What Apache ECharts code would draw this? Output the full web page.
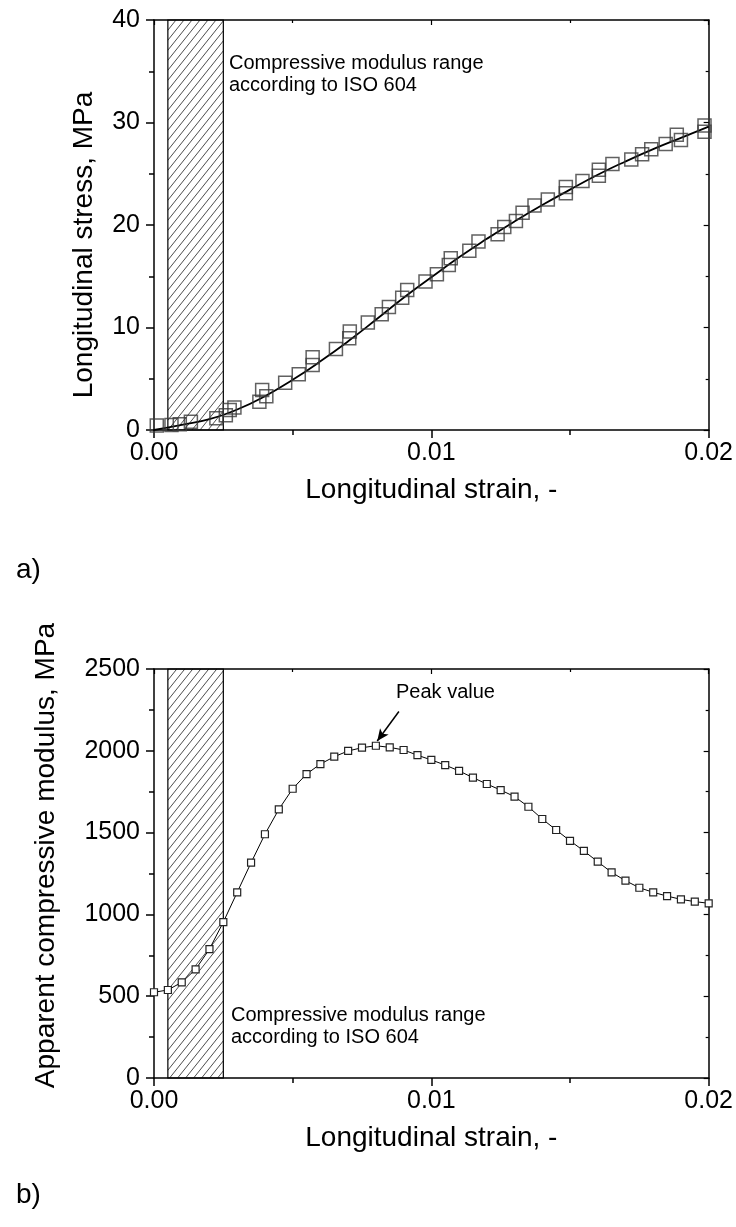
<!DOCTYPE html>
<html>
<head>
<meta charset="utf-8">
<script src="https://cdn.jsdelivr.net/npm/echarts@6/dist/echarts.min.js"></script>
<style>
html,body{margin:0;padding:0;background:#fff;}
#chart{width:736px;height:1227px;}
</style>
</head>
<body>
<div id="chart"></div>
<script>
// ---------- data ----------
const strainTicks = [0, 0.01, 0.02];
const hatchRange = [0.0005, 0.0025];

// (a) stress-strain, measured points [strain, stress MPa]
const stressPoints = [
  [0.0001,0.45],[0.00063,0.5],[0.00093,0.55],[0.00133,0.8],[0.00225,1.15],
  [0.00259,1.45],[0.00273,1.95],[0.0029,2.2],[0.0038,2.75],[0.0039,3.9],
  [0.00405,3.3],[0.00473,4.6],[0.00522,5.45],[0.00572,6.35],[0.00572,7.1],
  [0.00656,7.9],[0.00704,8.95],[0.00706,9.6],[0.00771,10.5],[0.00821,11.3],
  [0.00847,12.0],[0.00895,12.9],[0.00913,13.65],[0.00979,14.5],[0.0102,15.2],
  [0.01063,16.1],[0.0107,16.75],[0.01137,17.5],[0.0117,18.4],[0.01239,19.1],
  [0.01263,19.8],[0.01305,20.4],[0.01329,21.2],[0.01372,21.9],[0.0142,22.5],
  [0.01485,23.1],[0.01485,23.7],[0.01545,24.3],[0.01604,24.8],[0.01604,25.4],
  [0.01653,25.95],[0.01721,26.4],[0.0176,26.9],[0.01793,27.4],[0.01845,27.9],
  [0.01885,28.8],[0.019,28.3],[0.01985,29.7],[0.01985,29.1]
];
// (a) fitted curve [strain, stress]
const stressFit = [
  [0,0],[0.001,0.5],[0.002,1.05],[0.003,2.0],[0.004,3.3],[0.005,4.9],
  [0.006,6.7],[0.007,8.65],[0.008,10.75],[0.009,12.9],[0.010,14.9],
  [0.011,16.85],[0.012,18.65],[0.013,20.35],[0.014,21.95],[0.015,23.45],
  [0.016,24.9],[0.017,26.2],[0.018,27.4],[0.019,28.5],[0.020,29.6]
];

// (b) apparent compressive modulus
const modStrain = [
  0,0.0005,0.001,0.0015,0.002,0.0025,0.003,0.0035,0.004,0.0045,0.005,
  0.0055,0.006,0.0065,0.007,0.0075,0.008,0.0085,0.009,0.0095,0.01,
  0.0105,0.011,0.0115,0.012,0.0125,0.013,0.0135,0.014,0.0145,0.015,
  0.0155,0.016,0.0165,0.017,0.0175,0.018,0.0185,0.019,0.0195,0.02
];
const modValues = [
  524,538,585,664,788,953,1135,1316,1490,1642,1768,
  1858,1919,1964,1999,2019,2031,2021,2005,1973,1944,
  1913,1877,1836,1797,1760,1720,1658,1583,1516,1450,
  1388,1322,1257,1206,1163,1135,1112,1092,1078,1068
];
const peakArrow = [[0.00883, 2240], [0.00805, 2060]];

// ---------- styles ----------
const FONT = 'Liberation Sans, Arial, sans-serif';
function hatchPattern() {
  const w = 8, h = 10;
  const c = document.createElement('canvas');
  c.width = w; c.height = h;
  const g = c.getContext('2d');
  g.strokeStyle = '#111';
  g.lineWidth = 0.75;
  g.beginPath();
  g.moveTo(0, h); g.lineTo(w, 0);
  g.moveTo(-w, h); g.lineTo(0, 0);
  g.moveTo(w, h); g.lineTo(2 * w, 0);
  g.stroke();
  return c;
}
const hatchFill = { image: hatchPattern(), repeat: 'repeat' };
const plainNum = v => String(v);

function bottomX(gridIndex) {
  return {
    type: 'value', gridIndex, position: 'bottom', min: 0, max: 0.02, interval: 0.01,
    name: 'Longitudinal strain, -', nameLocation: 'middle', nameGap: 46,
    nameTextStyle: { fontFamily: FONT, fontSize: 28, color: '#000' },
    axisLine: { show: true, onZero: false, lineStyle: { color: '#000', width: 1.5 } },
    axisTick: { show: true, inside: false, length: 8, lineStyle: { color: '#000', width: 1.5 } },
    minorTick: { show: true, splitNumber: 2, length: 5, lineStyle: { color: '#000', width: 1.5 } },
    axisLabel: { margin: 11, fontFamily: FONT, fontSize: 25, color: '#000',
      formatter: v => v.toFixed(2) },
    splitLine: { show: false }
  };
}
function topX(gridIndex) {
  return {
    type: 'value', gridIndex, position: 'top', min: 0, max: 0.02, interval: 0.01,
    axisLine: { show: true, onZero: false, lineStyle: { color: '#000', width: 1.5 } },
    axisTick: { show: true, inside: true, length: 5, lineStyle: { color: '#000', width: 1.2 } },
    minorTick: { show: true, splitNumber: 2, length: 3, lineStyle: { color: '#000', width: 1.2 } },
    axisLabel: { show: false }, splitLine: { show: false }
  };
}
function leftY(gridIndex, max, interval, name, nameGap, pad) {
  return {
    type: 'value', gridIndex, position: 'left', min: 0, max, interval,
    name, nameLocation: 'middle', nameGap,
    nameTextStyle: { fontFamily: FONT, fontSize: 28, color: '#000', padding: pad },
    axisLine: { show: true, onZero: false, lineStyle: { color: '#000', width: 1.5 } },
    axisTick: { show: true, inside: false, length: 8, lineStyle: { color: '#000', width: 1.5 } },
    minorTick: { show: true, splitNumber: 2, length: 5, lineStyle: { color: '#000', width: 1.5 } },
    axisLabel: { margin: 14, fontFamily: FONT, fontSize: 25, color: '#000', formatter: plainNum },
    splitLine: { show: false }
  };
}
function rightY(gridIndex, max, interval) {
  return {
    type: 'value', gridIndex, position: 'right', min: 0, max, interval,
    axisLine: { show: true, onZero: false, lineStyle: { color: '#000', width: 1.5 } },
    axisTick: { show: true, inside: true, length: 5, lineStyle: { color: '#000', width: 1.2 } },
    minorTick: { show: true, splitNumber: 2, length: 3, lineStyle: { color: '#000', width: 1.2 } },
    axisLabel: { show: false }, splitLine: { show: false }
  };
}
function hatchArea() {
  return {
    silent: true,
    itemStyle: { color: hatchFill, borderColor: '#000', borderWidth: 1.2 },
    data: [[{ xAxis: hatchRange[0] }, { xAxis: hatchRange[1] }]]
  };
}

const chart = echarts.init(document.getElementById('chart'), null, { renderer: 'canvas' });
chart.setOption({
  animation: false,
  backgroundColor: '#fff',
  grid: [
    { left: 154, top: 20, width: 557, height: 410 },
    { left: 154, top: 669, width: 557, height: 409 }
  ],
  xAxis: [bottomX(0), topX(0), bottomX(1), topX(1)],
  yAxis: [
    leftY(0, 40, 10, 'Longitudinal stress, MPa', 56, [0, 40, 0, 0]),
    rightY(0, 40, 10),
    leftY(1, 2500, 500, 'Apparent compressive modulus, MPa', 94, [0, 0, 0, 36]),
    rightY(1, 2500, 500)
  ],
  series: [
    {
      type: 'line', name: 'fit', xAxisIndex: 0, yAxisIndex: 0,
      data: stressFit, smooth: true, showSymbol: false, z: 3,
      lineStyle: { color: '#000', width: 1.8 },
      markArea: hatchArea()
    },
    {
      type: 'scatter', name: 'measured', xAxisIndex: 0, yAxisIndex: 0,
      data: stressPoints, symbol: 'rect', symbolSize: 13, z: 4,
      itemStyle: { color: 'rgba(0,0,0,0)', borderColor: '#3a3a3a', borderWidth: 1.5 }
    },
    {
      type: 'line', name: 'modulus', xAxisIndex: 2, yAxisIndex: 2,
      data: modStrain.map((s, i) => [s, modValues[i]]),
      symbol: 'rect', symbolSize: 7, showAllSymbol: true, z: 4,
      lineStyle: { color: '#000', width: 1 },
      itemStyle: { color: '#fff', borderColor: '#222', borderWidth: 1.2 },
      markArea: hatchArea(),
      markLine: {
        silent: true, symbol: ['none', 'arrow'], symbolSize: [8, 12],
        lineStyle: { color: '#000', width: 1.5, type: 'solid' },
        label: { show: false },
        data: [[{ coord: peakArrow[0] }, { coord: peakArrow[1] }]]
      }
    }
  ],
  graphic: [
    { type: 'text', left: 229, top: 52, style: { text: 'Compressive modulus range\naccording to ISO 604', font: '20px ' + FONT, fill: '#000', lineHeight: 22 } },
    { type: 'text', left: 231, top: 1004, style: { text: 'Compressive modulus range\naccording to ISO 604', font: '20px ' + FONT, fill: '#000', lineHeight: 22 } },
    { type: 'text', left: 396, top: 682, style: { text: 'Peak value', font: '20px ' + FONT, fill: '#000' } },
    { type: 'text', left: 16, top: 556, style: { text: 'a)', font: '28px ' + FONT, fill: '#000' } },
    { type: 'text', left: 16, top: 1181, style: { text: 'b)', font: '28px ' + FONT, fill: '#000' } }
  ]
});
</script>
</body>
</html>
